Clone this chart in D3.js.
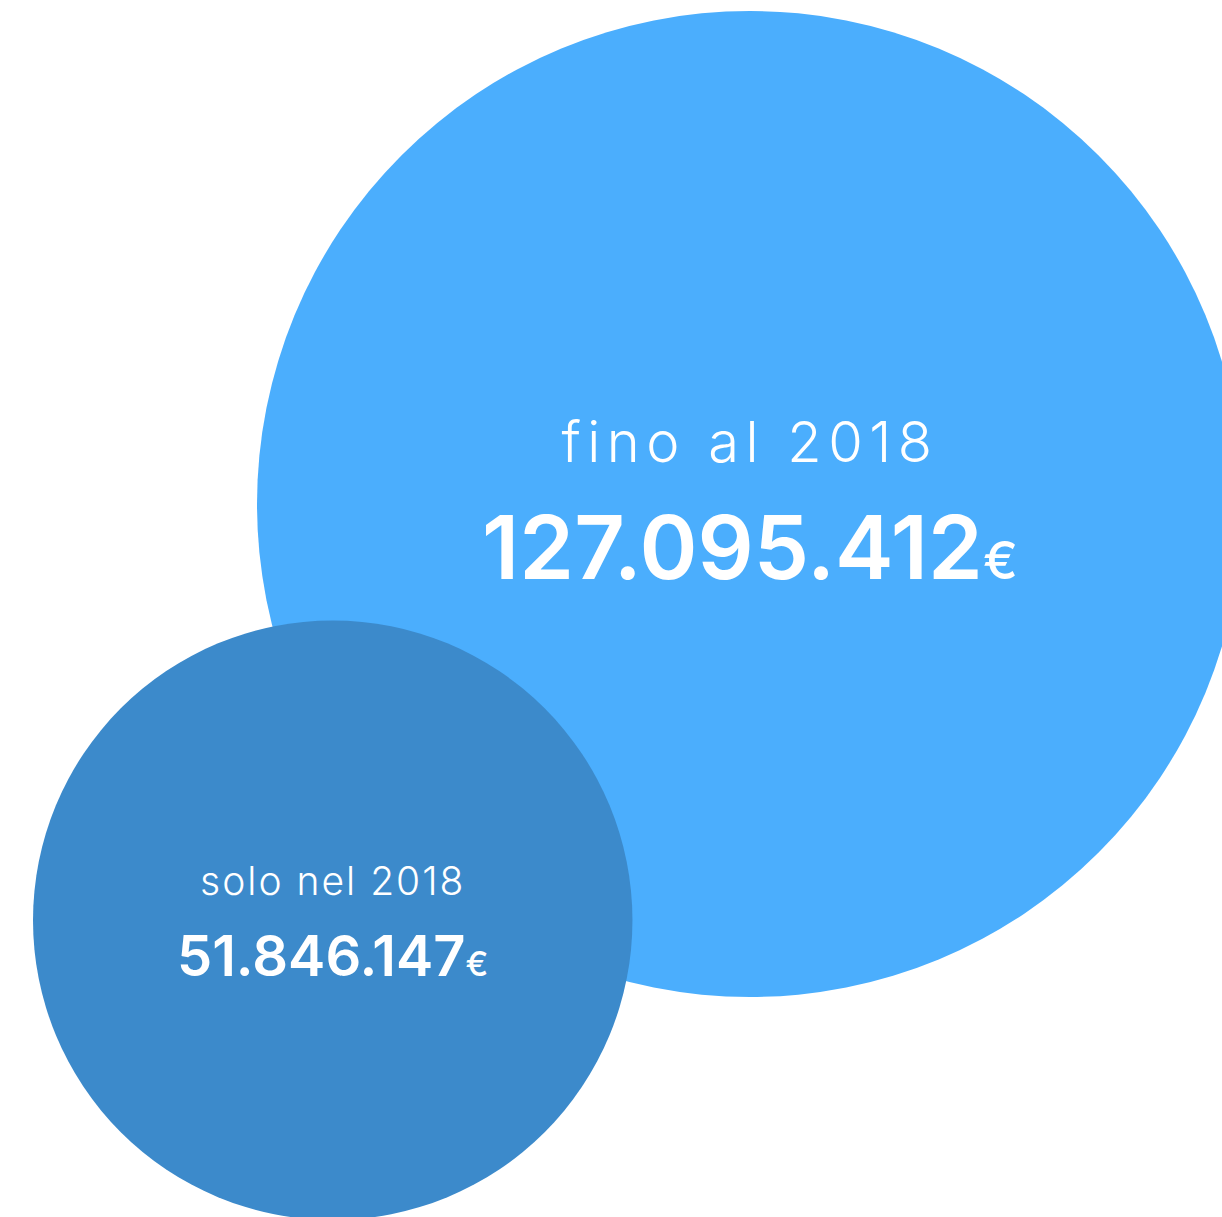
<!DOCTYPE html>
<html>
<head>
<meta charset="utf-8">
<script src="https://cdnjs.cloudflare.com/ajax/libs/d3/7.8.5/d3.min.js"></script>
<style>
  html, body { margin: 0; padding: 0; background: #fff; overflow: hidden; }
  svg { display: block; }
  text { font-family: Inter, "Open Sans", sans-serif; fill: #fff; }
</style>
</head>
<body>
<div id="chart"></div>
<script>
// data
const labels = ['fino al 2018', 'solo nel 2018'];
const values = [127095412, 51846147];
const colors = ['#4baefd', '#3c8acb'];

const WIDTH = 1222;
const HEIGHT = 1217;

const it = d3.formatLocale({decimal: ',', thousands: '.', grouping: [3], currency: ['', '€']});
const fmt = it.format(',d');

// radius scale (slightly flatter than pure area)
const r = d3.scalePow().exponent(0.555)
  .domain([0, d3.max(values)])
  .range([0, 493]);

// layout: big circle hangs from the top, small one sits bottom-left
const centers = [
  [750, 11 + r(values[0])],
  [33 + r(values[1]), 1220 - r(values[1])]
];

let svg = d3.select('#chart')
  .append('svg')
  .attr('width', WIDTH)
  .attr('height', HEIGHT);

let nodes = values.map((v, i) => ({
  label: labels[i], value: v, color: colors[i],
  x: centers[i][0], y: centers[i][1], r: r(v)
}));

let g = svg.selectAll('g.bubble')
  .data(nodes)
  .join('g')
  .attr('class', 'bubble')
  .attr('transform', d => `translate(${d.x},${d.y})`);

g.append('circle')
  .attr('r', d => d.r)
  .attr('fill', d => d.color);

// text sizes per bubble
const style = [
  {label: 56, spacing: 6.5, dyL: -42, num: 88, euro: 52, dyN: 75, ns: 0},
  {label: 39, spacing: 2, dyL: -25, num: 56, euro: 34, dyN: 56, ns: 0}
];

g.append('text')
  .attr('text-anchor', 'middle')
  .attr('y', (d, i) => style[i].dyL)
  .attr('font-size', (d, i) => style[i].label)
  .attr('font-weight', 300)
  .attr('letter-spacing', (d, i) => style[i].spacing)
  .text(d => d.label);

let num = g.append('text')
  .attr('text-anchor', 'middle')
  .attr('y', (d, i) => style[i].dyN)
  .attr('font-weight', 600)
  .attr('letter-spacing', (d, i) => style[i].ns);

num.append('tspan')
  .attr('font-size', (d, i) => style[i].num)
  .text(d => fmt(d.value));

num.append('tspan')
  .attr('font-size', (d, i) => style[i].euro)
  .attr('font-weight', 500)
  .text('€');
</script>
</body>
</html>
